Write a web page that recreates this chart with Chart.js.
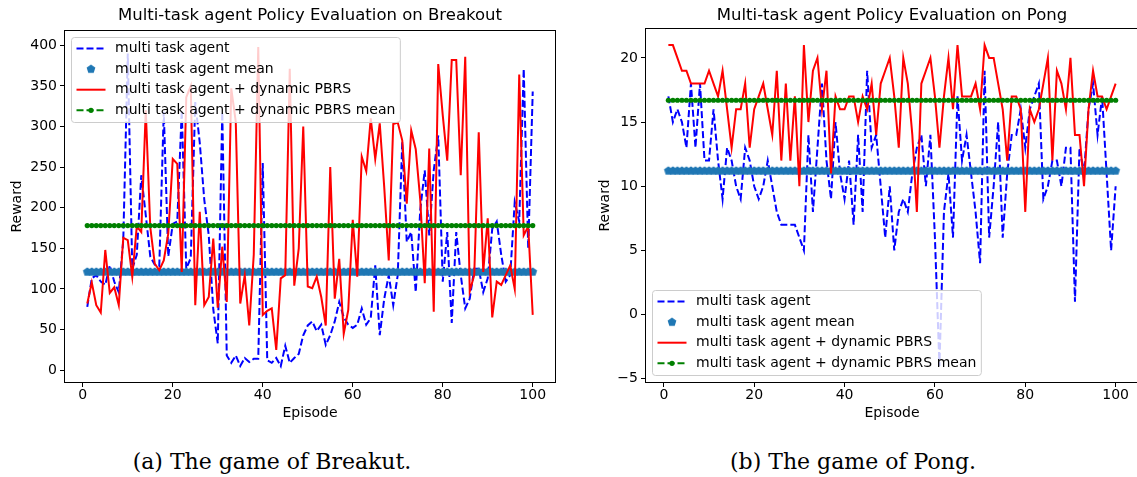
<!DOCTYPE html>
<html>
<head>
<meta charset="utf-8">
<script src="https://cdn.jsdelivr.net/npm/chart.js@4.4.1/dist/chart.umd.min.js"></script>
<style>
  html, body { margin: 0; padding: 0; background: #fff; overflow: hidden; }
  #page { position: relative; width: 1137px; height: 477px; }
  canvas { position: absolute; top: 0; }
  #breakoutChart { left: 0; }
  #pongChart { left: 592px; }
  .caption {
    position: absolute; top: 450px; line-height: 24px;
    font-family: "DejaVu Serif", serif; font-size: 22px; color: #000;
    white-space: nowrap; transform: translateX(-50%);
  }
</style>
</head>
<body>
<div id="page">
  <canvas id="breakoutChart" width="620" height="430"></canvas>
  <canvas id="pongChart" width="600" height="430"></canvas>
  <div class="caption" style="left:272px">(a) The game of Breakut.</div>
  <div class="caption" style="left:853px">(b) The game of Pong.</div>
</div>
<script>
// episode index 1..100
const episodes = Array.from({ length: 100 }, (_, i) => i + 1);

// Breakout rewards
const breakoutAgent = [
  78, 113, 117, 109, 105, 129, 109, 96, 160, 390,
  125, 142, 240, 191, 140, 130, 128, 318, 140, 180,
  183, 320, 125, 138, 330, 280, 210, 166, 75, 33,
  318, 18, 9, 18, 5, 15, 10, 14, 14, 255,
  12, 9, 15, 5, 30, 9, 15, 20, 43, 55,
  60, 48, 56, 31, 43, 60, 84, 65, 56, 52,
  56, 76, 56, 64, 129, 43, 88, 117, 80, 117,
  281, 158, 170, 96, 197, 246, 166, 246, 289, 109,
  170, 58, 170, 117, 76, 88, 125, 125, 96, 113,
  174, 183, 142, 109, 117, 207, 183, 371, 150, 343
];
const breakoutPbrs = [
  82, 108, 80, 71, 148, 95, 102, 80, 163, 160,
  115, 177, 170, 320, 176, 131, 123, 135, 168, 260,
  254, 121, 336, 350, 80, 195, 80, 90, 162, 77,
  152, 84, 347, 306, 82, 117, 55, 142, 398, 68,
  73, 76, 25, 113, 117, 371, 104, 150, 300, 103,
  101, 115, 90, 55, 250, 88, 137, 45, 74, 185,
  115, 263, 245, 310, 260, 304, 225, 135, 303, 305,
  283, 205, 295, 272, 210, 107, 273, 72, 377, 314,
  258, 382, 382, 240, 386, 97, 117, 293, 121, 187,
  65, 109, 105, 117, 129, 100, 364, 166, 177, 68
];
const breakoutAgentMean = 121;
const breakoutPbrsMean = 178;

// Pong rewards
const pongAgent = [
  17, 15, 16, 15, 13, 18, 13, 18, 12, 12,
  16, 12, 9, 13, 12, 10, 9, 13, 12, 10,
  9, 10, 12, 10, 8, 7, 7, 7, 7, 6,
  5, 14, 8, 13, 18, 12, 9, 15, 11, 9,
  12, 7, 14, 8, 19, 13, 14, 10, 6, 10,
  5, 8, 9, 8, 11, 13, 14, 10, 14, 6,
  -4, 8, 11, 6, 17, 12, 14, 11, 8, 4,
  19, 6, 10, 15, 6, 11, 14, 14, 16, 13,
  16, 17, 18, 9, 10, 12, 12, 10, 13, 13,
  1, 13, 11, 16, 18, 14, 17, 11, 5, 10
];
const pongPbrs = [
  21, 21, 20, 19, 19, 18, 18, 18, 18, 19,
  18, 17, 19, 16, 13, 16, 16, 18, 13, 16,
  17, 18, 16, 14, 19, 12, 18, 12, 17, 10,
  21, 15, 19, 20, 16, 19, 11, 17, 16, 16,
  17, 17, 15, 17, 16, 18, 14, 18, 19, 20,
  17, 13, 20, 18, 14, 8, 18, 19, 20, 17,
  13, 17, 20, 16, 21, 17, 17, 17, 18, 16,
  21, 20, 20, 18, 16, 12, 17, 17, 16, 8,
  16, 15, 16, 18, 20, 12, 19, 18, 16, 20,
  14, 14, 10, 16, 19, 17, 17, 16, 17, 18
];
const pongAgentMean = 11.2;
const pongPbrsMean = 16.7;

const xTicks = [0, 20, 40, 60, 80, 100];
const breakoutYTicks = [0, 50, 100, 150, 200, 250, 300, 350, 400];
const pongYTicks = [-5, 0, 5, 10, 15, 20];

const legendLabels = [
  "multi task agent",
  "multi task agent mean",
  "multi task agent + dynamic PBRS",
  "multi task agent + dynamic PBRS mean"
];

const FONT = "'DejaVu Sans', sans-serif";
const tickFont = { family: FONT, size: 14, lineHeight: 1 };
const labelFont = { family: FONT, size: 14 };

// pentagon marker (matplotlib 'p')
function makePentagon(r, color) {
  const size = Math.ceil(r * 2 + 2);
  const c = document.createElement("canvas");
  c.width = size;
  c.height = size;
  const g = c.getContext("2d");
  g.beginPath();
  for (let i = 0; i < 5; i++) {
    const a = -Math.PI / 2 + i * 2 * Math.PI / 5;
    const px = size / 2 + r * Math.cos(a);
    const py = size / 2 + r * Math.sin(a);
    if (i === 0) g.moveTo(px, py); else g.lineTo(px, py);
  }
  g.closePath();
  g.fillStyle = color;
  g.fill();
  return c;
}
const pentagon = makePentagon(4.6, "#1f77b4");

function buildDatasets(agent, agentMean, pbrs, pbrsMean) {
  const pts = arr => arr.map((v, i) => ({ x: episodes[i], y: v }));
  return [
    {
      label: legendLabels[0], data: pts(agent),
      borderColor: "#0000ff", borderWidth: 2, borderDash: [7, 3],
      pointRadius: 0, fill: false, order: 4
    },
    {
      label: legendLabels[1], data: pts(episodes.map(() => agentMean)),
      showLine: false, pointStyle: pentagon, pointRadius: 5, order: 3
    },
    {
      label: legendLabels[2], data: pts(pbrs),
      borderColor: "#ff0000", borderWidth: 2,
      pointRadius: 0, fill: false, order: 2
    },
    {
      label: legendLabels[3], data: pts(episodes.map(() => pbrsMean)),
      borderColor: "#008000", borderWidth: 2, borderDash: [7, 3],
      pointRadius: 2.6, pointBackgroundColor: "#008000", pointBorderWidth: 0,
      fill: false, order: 1
    }
  ];
}

function drawLegend(ctx, a, corner) {
  ctx.save();
  ctx.font = "14px " + FONT;
  const textW = Math.max(...legendLabels.map(t => ctx.measureText(t).width));
  const w = 43.5 + textW + 5;
  const h = 85;
  const x = a.left + 6.5;
  const y = corner === "upper" ? a.top + 6.5 : a.bottom - 6.5 - h;

  ctx.beginPath();
  ctx.roundRect(x, y, w, h, 3);
  ctx.fillStyle = "rgba(255,255,255,0.8)";
  ctx.fill();
  ctx.strokeStyle = "#cccccc";
  ctx.lineWidth = 1;
  ctx.stroke();

  const hx0 = x + 5, hx1 = x + 34, hxm = (hx0 + hx1) / 2;
  const rowY = i => y + 11 + i * 20.6;

  // blue dashed
  ctx.beginPath();
  ctx.setLineDash([7, 3]);
  ctx.strokeStyle = "#0000ff";
  ctx.lineWidth = 2;
  ctx.moveTo(hx0, rowY(0));
  ctx.lineTo(hx1, rowY(0));
  ctx.stroke();
  // pentagon
  ctx.setLineDash([]);
  ctx.drawImage(pentagon, hxm - pentagon.width / 2, rowY(1) - pentagon.height / 2);
  // red solid
  ctx.beginPath();
  ctx.strokeStyle = "#ff0000";
  ctx.moveTo(hx0, rowY(2));
  ctx.lineTo(hx1, rowY(2));
  ctx.stroke();
  // green dashed with dot
  ctx.beginPath();
  ctx.setLineDash([7, 3]);
  ctx.strokeStyle = "#008000";
  ctx.moveTo(hx0, rowY(3));
  ctx.lineTo(hx1, rowY(3));
  ctx.stroke();
  ctx.setLineDash([]);
  ctx.beginPath();
  ctx.fillStyle = "#008000";
  ctx.arc(hxm, rowY(3), 2.6, 0, Math.PI * 2);
  ctx.fill();

  ctx.fillStyle = "#000";
  ctx.textBaseline = "middle";
  ctx.textAlign = "left";
  legendLabels.forEach((t, i) => ctx.fillText(t, x + 43.5, rowY(i)));
  ctx.restore();
}

const decorPlugin = {
  id: "decor",
  afterDatasetsDraw(chart, args, opts) {
    const { ctx, chartArea: a } = chart;
    drawLegend(ctx, a, opts.legendCorner);
    ctx.save();
    ctx.strokeStyle = "#000";
    ctx.lineWidth = 1;
    ctx.strokeRect(Math.round(a.left) - 0.5, Math.round(a.top) - 0.5,
      Math.round(a.right - a.left) + 1, Math.round(a.bottom - a.top) + 1);
    ctx.font = "16.5px " + FONT;
    ctx.fillStyle = "#000";
    ctx.textAlign = "center";
    ctx.textBaseline = "middle";
    ctx.fillText(opts.title, (a.left + a.right) / 2, 16);
    ctx.restore();
  }
};

function makeOptions(cfg) {
  const fmt = v => (v < 0 ? "\u2212" + Math.abs(v) : String(v));
  return {
    responsive: false,
    animation: false,
    events: [],
    layout: { padding: { top: cfg.top, left: 0, right: cfg.right, bottom: 0 } },
    plugins: {
      legend: { display: false },
      tooltip: { enabled: false },
      decor: { title: cfg.title, legendCorner: cfg.legendCorner }
    },
    scales: {
      x: {
        type: "linear", min: -3.95, max: 104.95,
        afterBuildTicks: s => { s.ticks = xTicks.map(v => ({ value: v })); },
        afterFit: s => { s.height = 430 - 382; },
        grid: { display: true, drawOnChartArea: false, drawTicks: true, tickLength: 5, color: "#000", lineWidth: 1 },
        border: { display: false },
        ticks: { font: tickFont, color: "#000", padding: 1, maxRotation: 0, autoSkip: false, callback: fmt },
        title: { display: true, text: "Episode", font: labelFont, color: "#000", padding: { top: 0, bottom: 8 } }
      },
      y: {
        type: "linear", min: cfg.ymin, max: cfg.ymax,
        afterBuildTicks: s => { s.ticks = cfg.yTicks.map(v => ({ value: v })); },
        afterFit: s => { s.width = cfg.left; },
        grid: { display: true, drawOnChartArea: false, drawTicks: true, tickLength: 5, color: "#000", lineWidth: 1 },
        border: { display: false },
        ticks: { font: tickFont, color: "#000", padding: 3, autoSkip: false, callback: fmt },
        title: { display: true, text: "Reward", font: labelFont, color: "#000", padding: { top: cfg.ytitlePad, bottom: 0 } }
      }
    }
  };
}

new Chart(document.getElementById("breakoutChart"), {
  type: "line",
  data: { datasets: buildDatasets(breakoutAgent, breakoutAgentMean, breakoutPbrs, breakoutPbrsMean) },
  options: makeOptions({
    title: "Multi-task agent Policy Evaluation on Breakout",
    legendCorner: "upper", top: 31, right: 65, left: 65,
    ymin: -14.6, ymax: 417.6, yTicks: breakoutYTicks, ytitlePad: 9
  }),
  plugins: [decorPlugin]
});

new Chart(document.getElementById("pongChart"), {
  type: "line",
  data: { datasets: buildDatasets(pongAgent, pongAgentMean, pongPbrs, pongPbrsMean) },
  options: makeOptions({
    title: "Multi-task agent Policy Evaluation on Pong",
    legendCorner: "lower", top: 29, right: 54, left: 54,
    ymin: -5.25, ymax: 22.25, yTicks: pongYTicks, ytitlePad: 5
  }),
  plugins: [decorPlugin]
});
</script>
</body>
</html>
